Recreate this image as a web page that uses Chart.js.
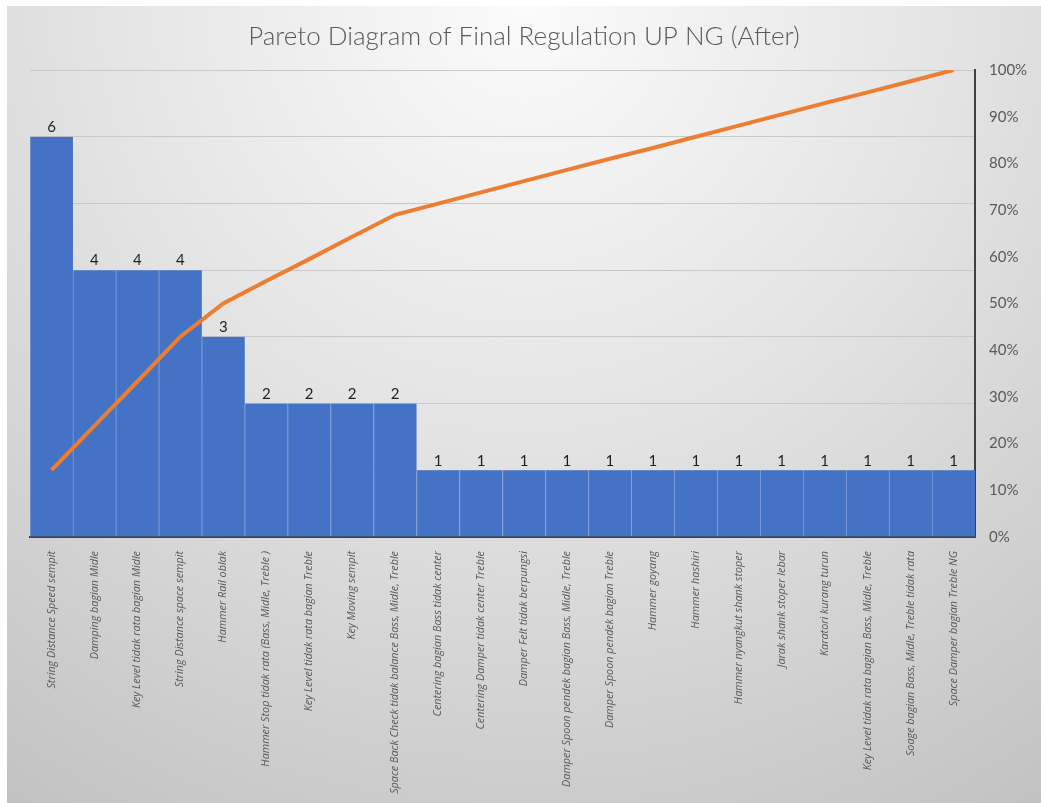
<!DOCTYPE html>
<html>
<head>
<meta charset="utf-8">
<script src="https://cdn.jsdelivr.net/npm/chart.js@4/dist/chart.umd.min.js"></script>
<style>
  html, body { margin: 0; padding: 0; background: #ffffff; }
  body { width: 1041px; height: 803px; position: relative; overflow: hidden; }
  #wrap { position: absolute; left: 7px; top: 6px; width: 1034px; height: 797px; }
</style>
</head>
<body>
<div id="wrap"><canvas id="pareto" width="1034" height="797"></canvas></div>
<script>
// Defect categories, sorted by count
const categories = [
  "String Distance Speed sempit",
  "Damping bagian Midle",
  "Key Level tidak rata bagian Midle",
  "String Distance space sempit",
  "Hammer Rail oblak",
  "Hammer Stop tidak rata (Bass, Midle, Treble )",
  "Key Level tidak rata bagian Treble",
  "Key Moving sempit",
  "Space Back Check tidak balance Bass, Midle, Treble",
  "Centering bagian Bass tidak center",
  "Centering Damper tidak center Treble",
  "Damper Felt tidak berpungsi",
  "Damper Spoon pendek bagian Bass, Midle, Treble",
  "Damper Spoon pendek bagian Treble",
  "Hammer goyang",
  "Hammer hashiri",
  "Hammer nyangkut shank stoper",
  "Jarak shank stoper lebar",
  "Karatori kurang turun",
  "Key Level tidak rata bagian Bass, Midle, Treble",
  "Soage bagian Bass, Midle, Treble tidak rata",
  "Space Damper bagian Treble NG"
];

// Number of NG occurrences per category
const counts = [6, 4, 4, 4, 3, 2, 2, 2, 2, 1, 1, 1, 1, 1, 1, 1, 1, 1, 1, 1, 1, 1];

// Cumulative share of all occurrences (%)
const cumulativePct = [14.3, 23.8, 33.3, 42.9, 50.0, 54.8, 59.5, 64.3, 69.0, 71.4, 73.8,
                       76.2, 78.6, 81.0, 83.3, 85.7, 88.1, 90.5, 92.9, 95.2, 97.6, 100];

// Right-hand axis tick values (%)
const pctTicks = [0, 10, 20, 30, 40, 50, 60, 70, 80, 90, 100];

const chartTitle = "Pareto Diagram of Final Regulation UP NG (After)";

// Soft grey backdrop, lighter at the top centre
const backdrop = {
  id: 'backdrop',
  beforeDraw(chart) {
    const { ctx, width, height } = chart;
    ctx.save();
    const g = ctx.createRadialGradient(width * 0.5, 0, 0, width * 0.5, 0, 980);
    g.addColorStop(0, '#fbfbfb');
    g.addColorStop(0.45, '#e3e3e3');
    g.addColorStop(1, '#c0c0c0');
    ctx.fillStyle = g;
    ctx.fillRect(0, 0, width, height);
    ctx.restore();
  }
};

// Count labels above each bar
const barValues = {
  id: 'barValues',
  afterDatasetsDraw(chart) {
    const { ctx } = chart;
    const meta = chart.getDatasetMeta(1);
    ctx.save();
    ctx.font = '15px Lato, "Open Sans", sans-serif';
    ctx.fillStyle = '#1f1f1f';
    ctx.textAlign = 'center';
    ctx.textBaseline = 'bottom';
    meta.data.forEach((bar, i) => {
      ctx.fillText(String(counts[i]), bar.x, bar.y - 2);
    });
    ctx.restore();
  }
};

new Chart(document.getElementById('pareto'), {
  data: {
    labels: categories,
    datasets: [
      {
        type: 'line',
        data: cumulativePct,
        yAxisID: 'y1',
        borderColor: '#ED7D31',
        borderWidth: 4,
        pointRadius: 0,
        tension: 0,
        order: 0
      },
      {
        type: 'bar',
        data: counts,
        yAxisID: 'y',
        backgroundColor: '#4472C4',
        borderColor: '#7E9CD8',
        borderWidth: { left: 1, right: 0, top: 0, bottom: 0 },
        borderSkipped: false,
        categoryPercentage: 1,
        barPercentage: 1,
        order: 1
      }
    ]
  },
  options: {
    responsive: false,
    animation: false,
    layout: { padding: 0 },
    plugins: {
      legend: { display: false },
      tooltip: { enabled: false },
      title: {
        display: true,
        text: chartTitle,
        color: '#595959',
        font: { family: 'Lato, "Open Sans", sans-serif', size: 26, weight: 300, lineHeight: 1.2 },
        padding: { top: 15, bottom: 17.8 }
      }
    },
    scales: {
      x: {
        grid: { display: false },
        border: { display: true, color: '#404040', width: 2 },
        ticks: {
          autoSkip: false,
          minRotation: 90,
          maxRotation: 90,
          padding: 6,
          color: '#595959',
          font: { family: '"Open Sans", sans-serif', size: 10.8, style: 'italic' }
        },
        afterFit(scale) { scale.height = 266; }
      },
      y: {
        position: 'left',
        min: 0,
        max: 7,
        ticks: { display: false, stepSize: 1 },
        grid: { color: '#c8c8c8', lineWidth: 1, drawTicks: false },
        border: { display: false },
        afterFit(scale) { scale.width = 23; }
      },
      y1: {
        position: 'right',
        min: 0,
        max: 100,
        afterBuildTicks(scale) { scale.ticks = pctTicks.map(v => ({ value: v })); },
        ticks: {
          padding: 14,
          color: '#595959',
          font: { family: 'Lato, "Open Sans", sans-serif', size: 15 },
          callback: v => v + '%'
        },
        grid: { drawOnChartArea: false, drawTicks: false },
        border: { display: true, color: '#404040', width: 2 },
        afterFit(scale) { scale.width = 66; }
      }
    }
  },
  plugins: [backdrop, barValues]
});
</script>
</body>
</html>
